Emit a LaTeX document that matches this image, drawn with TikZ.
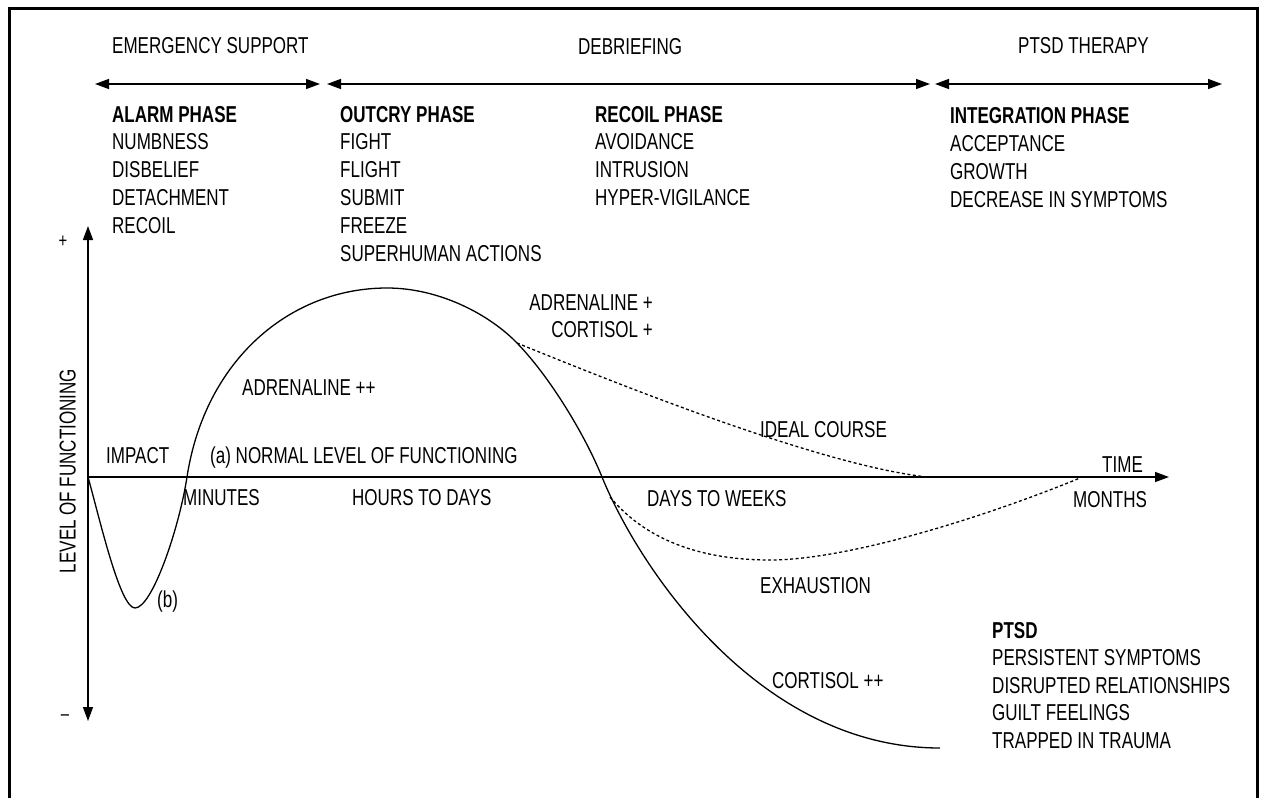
\documentclass[tikz,border=0pt]{standalone}
\usepackage{fontspec}
\setmainfont{Liberation Sans}[FakeStretch=0.74]
\usetikzlibrary{arrows.meta}
\begin{document}
\begin{tikzpicture}[x=1pt,y=-1pt,
  lbl/.style={font=\fontsize{23}{27}\selectfont, inner sep=0pt, anchor=base west},
  hd/.style={lbl, font=\fontsize{23}{27}\selectfont\bfseries},
  axisline/.style={line width=1.4pt},
  tipend/.style={-{Triangle[length=14pt,width=10pt]}},
  tipboth/.style={{Triangle[length=14pt,width=10pt]}-{Triangle[length=14pt,width=10pt]}},
  curve/.style={line width=1.3pt},
  dotc/.style={line width=1.3pt, dash pattern=on 3pt off 2.5pt}]
\useasboundingbox (0,0) rectangle (1261,798);
\fill[white] (0,0) rectangle (1261,798);
% frame
\draw[line width=3.5pt] (9.5,798) -- (9.5,8.5) -- (1257.5,8.5) -- (1257.5,798);

% header labels
\node[lbl] (hEm) at (112,53) {EMERGENCY SUPPORT};
\node[lbl] (hDb) at (578,54) {DEBRIEFING};
\node[lbl] (hPt) at (1018,53) {PTSD THERAPY};

% header arrows
\coordinate (a1l) at (95,84);  \coordinate (a1r) at (320,84);
\coordinate (a2l) at (327,84); \coordinate (a2r) at (930,84);
\coordinate (a3l) at (935,84); \coordinate (a3r) at (1222,84);
\draw[axisline,tipboth] (a1l) -- (a1r);
\draw[axisline,tipboth] (a2l) -- (a2r);
\draw[axisline,tipboth] (a3l) -- (a3r);

% phase columns
\node[hd] (alarm) at (112,122) {ALARM PHASE};
\foreach \t [count=\i] in {NUMBNESS, DISBELIEF, DETACHMENT, RECOIL}
  \node[lbl] (alarm\i) at (112,{122+27.8*\i}) {\t};
\node[hd] (outcry) at (340,122) {OUTCRY PHASE};
\foreach \t [count=\i] in {FIGHT, FLIGHT, SUBMIT, FREEZE, SUPERHUMAN ACTIONS}
  \node[lbl] (outcry\i) at (340,{122+27.8*\i}) {\t};
\node[hd] (recoil) at (595,122) {RECOIL PHASE};
\foreach \t [count=\i] in {AVOIDANCE, INTRUSION, HYPER-VIGILANCE}
  \node[lbl] (recoil\i) at (595,{122+27.8*\i}) {\t};
\node[hd] (integ) at (950,123) {INTEGRATION PHASE};
\foreach \t [count=\i] in {ACCEPTANCE, GROWTH, DECREASE IN SYMPTOMS}
  \node[lbl] (integ\i) at (950,{123+28*\i}) {\t};
\node[hd] (ptsd) at (992,638) {PTSD};
\foreach \t [count=\i] in {PERSISTENT SYMPTOMS, DISRUPTED RELATIONSHIPS, GUILT FEELINGS, TRAPPED IN TRAUMA}
  \node[lbl] (ptsd\i) at (992,{638+27.6*\i}) {\t};

% axes
\coordinate (O) at (88,477);
\coordinate (ytop) at (88,226);
\coordinate (ybot) at (88,721);
\coordinate (xend) at (1169,477);
\draw[axisline,tipboth] (ybot) -- (ytop);
\draw[axisline,tipend] (O) -- (xend);
\node[font=\fontsize{20}{24}\selectfont, inner sep=0pt] (plus) at (63,242) {+};
\node[font=\fontsize{20}{24}\selectfont, inner sep=0pt] (minus) at (65,718) {–};
\node[lbl, anchor=base, rotate=90] (ylab) at (75.5,471) {LEVEL OF FUNCTIONING};

% axis labels
\node[lbl] (time) at (1102,472) {TIME};
\node[lbl] (months) at (1073,507) {MONTHS};
\node[lbl] (impact) at (106,463) {IMPACT};
\node[lbl] (normal) at (210,463) {(a) NORMAL LEVEL OF FUNCTIONING};
\node[lbl] (minutes) at (183,505) {MINUTES};
\node[lbl] (hours) at (352,505) {HOURS TO DAYS};
\node[lbl] (days) at (647,506) {DAYS TO WEEKS};
\node[lbl] (b) at (157,607) {(b)};
\node[lbl] (adrpp) at (242,395) {ADRENALINE ++};
\node[lbl, anchor=base east] (adrp) at (653,310) {ADRENALINE +};
\node[lbl, anchor=base east] (corp) at (653,337) {CORTISOL +};
\node[lbl] (ideal) at (760,437) {IDEAL COURSE};
\node[lbl] (exh) at (760,593) {EXHAUSTION};
\node[lbl] (corpp) at (772,688) {CORTISOL ++};

% curves
\coordinate (bmin) at (135,608);
\coordinate (cross1) at (187,477);
\coordinate (peak) at (387,288);
\coordinate (split1) at (517,343);
\coordinate (cross2) at (602,477);
\coordinate (cend) at (940,748);
\coordinate (iend) at (927,477);
\coordinate (emin) at (770,560);
\coordinate (eend) at (1080,478);
\coordinate (split2) at (610,497);
\draw[curve] (O) .. controls (100,520) and (120,608) .. (bmin)
  .. controls (152,608) and (179,529) .. (cross1)
  .. controls (205,360) and (290,288) .. (peak)
  .. controls (440,288) and (490,315) .. (split1)
  .. controls (550,377) and (585,435) .. (cross2)
  .. controls (640,570) and (760,748) .. (cend);
\draw[dotc] (split1) .. controls (620,385) and (820,465) .. (iend);
\draw[dotc] (split2) .. controls (650,545) and (710,560) .. (emin)
  .. controls (850,560) and (990,515) .. (eend);
\end{tikzpicture}
\end{document}
